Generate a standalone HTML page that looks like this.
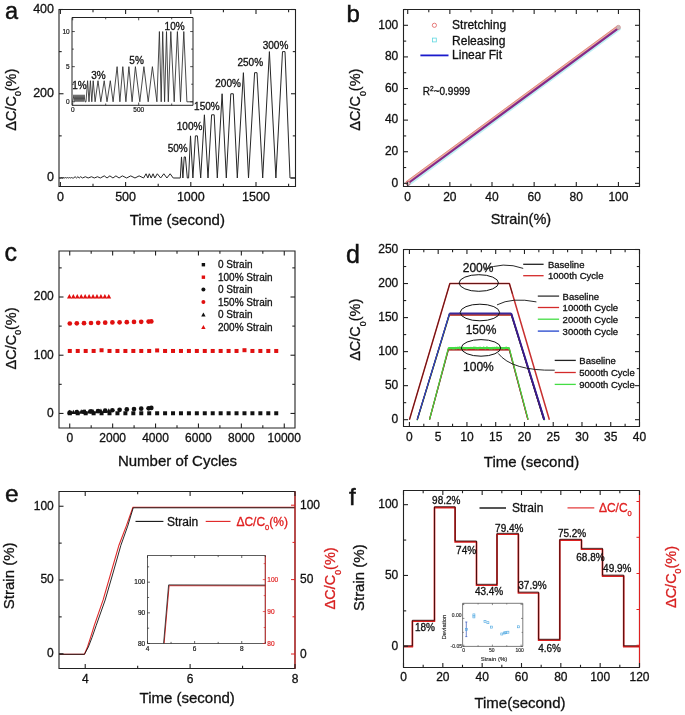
<!DOCTYPE html>
<html><head><meta charset="utf-8"><style>
html,body{margin:0;padding:0;background:#fff;}
svg{display:block;}
#w{will-change:transform;width:685px;height:715px;}
text{font-family:"Liberation Sans", sans-serif;}
</style></head><body>
<div id="w"><svg width="685" height="715" viewBox="0 0 685 715">
<rect width="685" height="715" fill="#fff"/>
<path d="M59.6 177.99 L60.4 177.99 L60.4 177.99 L61.68 177.57 L62.67 177.99 L63.66 177.57 L64.64 177.99 L65.63 177.57 L66.62 177.99 L67.61 177.57 L68.59 177.99 L69.58 177.57 L70.57 177.99 L71.56 177.57 L72.55 177.99 L73.53 177.99 L75.12 176.73 L76.5 177.99 L77.88 176.73 L79.26 177.99 L80.65 176.73 L82.52 177.99 L85.39 176.73 L88.16 177.99 L91.51 176.73 L94.28 177.99 L97.54 176.73 L100.31 177.99 L104.26 175.89 L107.02 177.99 L109.89 175.89 L112.95 177.99 L115.92 175.89 L119.08 177.99 L122.34 175.89 L126.68 177.99 L130.73 175.89 L134.98 177.99 L139.13 175.89 L143.58 177.99 L146.05 173.78 L147.83 177.99 L149.31 173.78 L151.18 177.99 L153.06 173.78 L154.84 177.99 L157.31 173.78 L160.67 177.99 L163.83 173.78 L166.89 177.99 L170.15 173.78 L173.21 177.99 L180.3 177.99 L181.5 156.93 L182.9 177.99 L184.2 156.93 L185.4 156.93 L187.3 177.99 L188.6 177.99 L190.5 135.87 L192.9 177.99 L195.4 135.87 L197.4 135.87 L200.7 177.99 L204.4 114.81 L208 177.99 L211.6 114.81 L214.2 114.81 L217.3 177.99 L222.1 93.75 L226.3 177.99 L230.8 93.75 L233.3 93.75 L237.3 177.99 L243.4 72.68 L248.5 177.99 L254.6 72.68 L257 72.68 L262.7 177.99 L269.4 51.62 L275.9 177.99 L282.5 51.62 L285 51.62 L290 177.99 L295.5 177.99" fill="none" stroke="#262626" stroke-width="1.0" stroke-linejoin="round" />
<path d="M59 9.5 H295.5 V186.5 H59 Z" fill="none" stroke="#222" stroke-width="1.1"/>
<line x1="60.4" y1="186.5" x2="60.4" y2="182" stroke="#222" stroke-width="1.1"/>
<line x1="60.4" y1="9.5" x2="60.4" y2="14" stroke="#222" stroke-width="1.1"/>
<line x1="93" y1="186.5" x2="93" y2="183.8" stroke="#222" stroke-width="1.1"/>
<line x1="93" y1="9.5" x2="93" y2="12.2" stroke="#222" stroke-width="1.1"/>
<line x1="125.6" y1="186.5" x2="125.6" y2="182" stroke="#222" stroke-width="1.1"/>
<line x1="125.6" y1="9.5" x2="125.6" y2="14" stroke="#222" stroke-width="1.1"/>
<line x1="158.2" y1="186.5" x2="158.2" y2="183.8" stroke="#222" stroke-width="1.1"/>
<line x1="158.2" y1="9.5" x2="158.2" y2="12.2" stroke="#222" stroke-width="1.1"/>
<line x1="190.8" y1="186.5" x2="190.8" y2="182" stroke="#222" stroke-width="1.1"/>
<line x1="190.8" y1="9.5" x2="190.8" y2="14" stroke="#222" stroke-width="1.1"/>
<line x1="223.4" y1="186.5" x2="223.4" y2="183.8" stroke="#222" stroke-width="1.1"/>
<line x1="223.4" y1="9.5" x2="223.4" y2="12.2" stroke="#222" stroke-width="1.1"/>
<line x1="256" y1="186.5" x2="256" y2="182" stroke="#222" stroke-width="1.1"/>
<line x1="256" y1="9.5" x2="256" y2="14" stroke="#222" stroke-width="1.1"/>
<line x1="288.6" y1="186.5" x2="288.6" y2="183.8" stroke="#222" stroke-width="1.1"/>
<line x1="288.6" y1="9.5" x2="288.6" y2="12.2" stroke="#222" stroke-width="1.1"/>
<line x1="59" y1="177.99" x2="63.5" y2="177.99" stroke="#222" stroke-width="1.1"/>
<line x1="295.5" y1="177.99" x2="291" y2="177.99" stroke="#222" stroke-width="1.1"/>
<line x1="59" y1="135.87" x2="61.7" y2="135.87" stroke="#222" stroke-width="1.1"/>
<line x1="295.5" y1="135.87" x2="292.8" y2="135.87" stroke="#222" stroke-width="1.1"/>
<line x1="59" y1="93.75" x2="63.5" y2="93.75" stroke="#222" stroke-width="1.1"/>
<line x1="295.5" y1="93.75" x2="291" y2="93.75" stroke="#222" stroke-width="1.1"/>
<line x1="59" y1="51.62" x2="61.7" y2="51.62" stroke="#222" stroke-width="1.1"/>
<line x1="295.5" y1="51.62" x2="292.8" y2="51.62" stroke="#222" stroke-width="1.1"/>
<line x1="59" y1="9.5" x2="63.5" y2="9.5" stroke="#222" stroke-width="1.1"/>
<line x1="295.5" y1="9.5" x2="291" y2="9.5" stroke="#222" stroke-width="1.1"/>
<text x="60.4" y="200.9" font-size="12.5" text-anchor="middle" fill="#111" stroke="#111" stroke-width="0.3" >0</text>
<text x="125.6" y="200.9" font-size="12.5" text-anchor="middle" fill="#111" stroke="#111" stroke-width="0.3" >500</text>
<text x="190.8" y="200.9" font-size="12.5" text-anchor="middle" fill="#111" stroke="#111" stroke-width="0.3" >1000</text>
<text x="256" y="200.9" font-size="12.5" text-anchor="middle" fill="#111" stroke="#111" stroke-width="0.3" >1500</text>
<text x="54" y="181.09" font-size="12.5" text-anchor="end" fill="#111" stroke="#111" stroke-width="0.3" >0</text>
<text x="54" y="96.85" font-size="12.5" text-anchor="end" fill="#111" stroke="#111" stroke-width="0.3" >200</text>
<text x="54" y="12.6" font-size="12.5" text-anchor="end" fill="#111" stroke="#111" stroke-width="0.3" >400</text>
<text x="177.3" y="225.2" font-size="15" text-anchor="middle" fill="#111" stroke="#111" stroke-width="0.3" >Time (second)</text>
<text x="15.9" y="99.7" font-size="14.5" text-anchor="middle" fill="#111" stroke="#111" stroke-width="0.3" transform="rotate(-90 15.9 99.7)">ΔC/C<tspan font-size="8.7" dy="5.51">0</tspan><tspan dy="-5.51">(%)</tspan></text>
<text x="5" y="18.6" font-size="23.5" text-anchor="start" fill="#111" stroke="#111" stroke-width="0.45" >a</text>
<text x="177.7" y="151.6" font-size="10" text-anchor="middle" fill="#111" stroke="#111" stroke-width="0.3" >50%</text>
<text x="189.6" y="130.3" font-size="10" text-anchor="middle" fill="#111" stroke="#111" stroke-width="0.3" >100%</text>
<text x="206.9" y="110.4" font-size="10" text-anchor="middle" fill="#111" stroke="#111" stroke-width="0.3" >150%</text>
<text x="228.1" y="86.6" font-size="10" text-anchor="middle" fill="#111" stroke="#111" stroke-width="0.3" >200%</text>
<text x="250.3" y="65.6" font-size="10" text-anchor="middle" fill="#111" stroke="#111" stroke-width="0.3" >250%</text>
<text x="275.5" y="49.3" font-size="10" text-anchor="middle" fill="#111" stroke="#111" stroke-width="0.3" >300%</text>
<rect x="72" y="17.5" width="121" height="87.8" fill="#fff"/>
<path d="M72.7 101.79 L72.7 101.79 L74 94.76 L75 101.79 L76 94.76 L77 101.79 L78 94.76 L79 101.79 L80 94.76 L81 101.79 L82 94.76 L83 101.79 L84 94.76 L85 101.79 L86 101.79 L87.6 80.72 L89 101.79 L90.4 80.72 L91.8 101.79 L93.2 80.72 L95.1 101.79 L98 80.72 L100.8 101.79 L104.2 80.72 L107 101.79 L110.3 80.72 L113.1 101.79 L117.1 66.67 L119.9 101.79 L122.8 66.67 L125.9 101.79 L128.9 66.67 L132.1 101.79 L135.4 66.67 L139.8 101.79 L143.9 66.67 L148.2 101.79 L152.4 66.67 L156.9 101.79 L159.4 31.55 L161.2 101.79 L162.7 31.55 L164.6 101.79 L166.5 31.55 L168.3 101.79 L170.8 31.55 L174.2 101.79 L177.4 31.55 L180.5 101.79 L183.8 31.55 L186.9 101.79 L193 101.79" fill="none" stroke="#2a2a2a" stroke-width="0.85" stroke-linejoin="round" />
<path d="M72 17.5 H193 V105.3 H72 Z" fill="none" stroke="#222" stroke-width="1"/>
<line x1="72.7" y1="105.3" x2="72.7" y2="102.5" stroke="#222" stroke-width="0.8"/>
<line x1="72.7" y1="17.5" x2="72.7" y2="20.3" stroke="#222" stroke-width="0.8"/>
<line x1="105.7" y1="105.3" x2="105.7" y2="103.5" stroke="#222" stroke-width="0.8"/>
<line x1="105.7" y1="17.5" x2="105.7" y2="19.3" stroke="#222" stroke-width="0.8"/>
<line x1="138.7" y1="105.3" x2="138.7" y2="102.5" stroke="#222" stroke-width="0.8"/>
<line x1="138.7" y1="17.5" x2="138.7" y2="20.3" stroke="#222" stroke-width="0.8"/>
<line x1="171.7" y1="105.3" x2="171.7" y2="103.5" stroke="#222" stroke-width="0.8"/>
<line x1="171.7" y1="17.5" x2="171.7" y2="19.3" stroke="#222" stroke-width="0.8"/>
<line x1="72" y1="101.79" x2="74.8" y2="101.79" stroke="#222" stroke-width="0.8"/>
<line x1="193" y1="101.79" x2="190.2" y2="101.79" stroke="#222" stroke-width="0.8"/>
<line x1="72" y1="84.23" x2="73.8" y2="84.23" stroke="#222" stroke-width="0.8"/>
<line x1="193" y1="84.23" x2="191.2" y2="84.23" stroke="#222" stroke-width="0.8"/>
<line x1="72" y1="66.67" x2="74.8" y2="66.67" stroke="#222" stroke-width="0.8"/>
<line x1="193" y1="66.67" x2="190.2" y2="66.67" stroke="#222" stroke-width="0.8"/>
<line x1="72" y1="49.11" x2="73.8" y2="49.11" stroke="#222" stroke-width="0.8"/>
<line x1="193" y1="49.11" x2="191.2" y2="49.11" stroke="#222" stroke-width="0.8"/>
<line x1="72" y1="31.55" x2="74.8" y2="31.55" stroke="#222" stroke-width="0.8"/>
<line x1="193" y1="31.55" x2="190.2" y2="31.55" stroke="#222" stroke-width="0.8"/>
<text x="72.7" y="111.8" font-size="6.5" text-anchor="middle" fill="#111" stroke="#111" stroke-width="0.18" >0</text>
<text x="138.7" y="111.8" font-size="6.5" text-anchor="middle" fill="#111" stroke="#111" stroke-width="0.18" >500</text>
<text x="69.7" y="104.09" font-size="6.5" text-anchor="end" fill="#111" stroke="#111" stroke-width="0.18" >0</text>
<text x="69.7" y="68.97" font-size="6.5" text-anchor="end" fill="#111" stroke="#111" stroke-width="0.18" >5</text>
<text x="69.7" y="33.85" font-size="6.5" text-anchor="end" fill="#111" stroke="#111" stroke-width="0.18" >10</text>
<text x="79.4" y="89.2" font-size="10" text-anchor="middle" fill="#111" stroke="#111" stroke-width="0.3" >1%</text>
<text x="98.5" y="79" font-size="10" text-anchor="middle" fill="#111" stroke="#111" stroke-width="0.3" >3%</text>
<text x="136.6" y="63.6" font-size="10" text-anchor="middle" fill="#111" stroke="#111" stroke-width="0.3" >5%</text>
<text x="174.6" y="29.9" font-size="10" text-anchor="middle" fill="#111" stroke="#111" stroke-width="0.3" >10%</text>
<line x1="408.49" y1="184.39" x2="619.2" y2="29.04" stroke="#bff0f4" stroke-width="3.2" stroke-opacity="1" stroke-linecap="round"/>
<line x1="407.12" y1="182.53" x2="617.84" y2="27.19" stroke="#eeb0a6" stroke-width="3.4" stroke-opacity="1" stroke-linecap="round"/>
<line x1="407.83" y1="183.5" x2="618.55" y2="28.15" stroke="#842a88" stroke-width="2.1" stroke-opacity="1" stroke-linecap="round"/>
<line x1="406.35" y1="181.49" x2="617.06" y2="26.14" stroke="#d87060" stroke-width="0.8" stroke-opacity="0.7" stroke-linecap="round"/>
<circle cx="618.43" cy="27.39" r="2.1" fill="#c8b8b8" stroke="#d09090" stroke-width="0.6"/>
<circle cx="408.01" cy="183.34" r="2" fill="#fff" stroke="#c05060" stroke-width="0.8"/>
<path d="M403.5 9.5 H639.5 V186.5 H403.5 Z" fill="none" stroke="#222" stroke-width="1.1"/>
<line x1="407.71" y1="186.5" x2="407.71" y2="182" stroke="#222" stroke-width="1.1"/>
<line x1="407.71" y1="9.5" x2="407.71" y2="14" stroke="#222" stroke-width="1.1"/>
<line x1="428.79" y1="186.5" x2="428.79" y2="183.8" stroke="#222" stroke-width="1.1"/>
<line x1="428.79" y1="9.5" x2="428.79" y2="12.2" stroke="#222" stroke-width="1.1"/>
<line x1="449.86" y1="186.5" x2="449.86" y2="182" stroke="#222" stroke-width="1.1"/>
<line x1="449.86" y1="9.5" x2="449.86" y2="14" stroke="#222" stroke-width="1.1"/>
<line x1="470.93" y1="186.5" x2="470.93" y2="183.8" stroke="#222" stroke-width="1.1"/>
<line x1="470.93" y1="9.5" x2="470.93" y2="12.2" stroke="#222" stroke-width="1.1"/>
<line x1="492" y1="186.5" x2="492" y2="182" stroke="#222" stroke-width="1.1"/>
<line x1="492" y1="9.5" x2="492" y2="14" stroke="#222" stroke-width="1.1"/>
<line x1="513.07" y1="186.5" x2="513.07" y2="183.8" stroke="#222" stroke-width="1.1"/>
<line x1="513.07" y1="9.5" x2="513.07" y2="12.2" stroke="#222" stroke-width="1.1"/>
<line x1="534.14" y1="186.5" x2="534.14" y2="182" stroke="#222" stroke-width="1.1"/>
<line x1="534.14" y1="9.5" x2="534.14" y2="14" stroke="#222" stroke-width="1.1"/>
<line x1="555.21" y1="186.5" x2="555.21" y2="183.8" stroke="#222" stroke-width="1.1"/>
<line x1="555.21" y1="9.5" x2="555.21" y2="12.2" stroke="#222" stroke-width="1.1"/>
<line x1="576.29" y1="186.5" x2="576.29" y2="182" stroke="#222" stroke-width="1.1"/>
<line x1="576.29" y1="9.5" x2="576.29" y2="14" stroke="#222" stroke-width="1.1"/>
<line x1="597.36" y1="186.5" x2="597.36" y2="183.8" stroke="#222" stroke-width="1.1"/>
<line x1="597.36" y1="9.5" x2="597.36" y2="12.2" stroke="#222" stroke-width="1.1"/>
<line x1="618.43" y1="186.5" x2="618.43" y2="182" stroke="#222" stroke-width="1.1"/>
<line x1="618.43" y1="9.5" x2="618.43" y2="14" stroke="#222" stroke-width="1.1"/>
<line x1="639.5" y1="186.5" x2="639.5" y2="183.8" stroke="#222" stroke-width="1.1"/>
<line x1="639.5" y1="9.5" x2="639.5" y2="12.2" stroke="#222" stroke-width="1.1"/>
<line x1="403.5" y1="183.34" x2="408" y2="183.34" stroke="#222" stroke-width="1.1"/>
<line x1="639.5" y1="183.34" x2="635" y2="183.34" stroke="#222" stroke-width="1.1"/>
<line x1="403.5" y1="167.54" x2="406.2" y2="167.54" stroke="#222" stroke-width="1.1"/>
<line x1="639.5" y1="167.54" x2="636.8" y2="167.54" stroke="#222" stroke-width="1.1"/>
<line x1="403.5" y1="151.73" x2="408" y2="151.73" stroke="#222" stroke-width="1.1"/>
<line x1="639.5" y1="151.73" x2="635" y2="151.73" stroke="#222" stroke-width="1.1"/>
<line x1="403.5" y1="135.93" x2="406.2" y2="135.93" stroke="#222" stroke-width="1.1"/>
<line x1="639.5" y1="135.93" x2="636.8" y2="135.93" stroke="#222" stroke-width="1.1"/>
<line x1="403.5" y1="120.12" x2="408" y2="120.12" stroke="#222" stroke-width="1.1"/>
<line x1="639.5" y1="120.12" x2="635" y2="120.12" stroke="#222" stroke-width="1.1"/>
<line x1="403.5" y1="104.32" x2="406.2" y2="104.32" stroke="#222" stroke-width="1.1"/>
<line x1="639.5" y1="104.32" x2="636.8" y2="104.32" stroke="#222" stroke-width="1.1"/>
<line x1="403.5" y1="88.52" x2="408" y2="88.52" stroke="#222" stroke-width="1.1"/>
<line x1="639.5" y1="88.52" x2="635" y2="88.52" stroke="#222" stroke-width="1.1"/>
<line x1="403.5" y1="72.71" x2="406.2" y2="72.71" stroke="#222" stroke-width="1.1"/>
<line x1="639.5" y1="72.71" x2="636.8" y2="72.71" stroke="#222" stroke-width="1.1"/>
<line x1="403.5" y1="56.91" x2="408" y2="56.91" stroke="#222" stroke-width="1.1"/>
<line x1="639.5" y1="56.91" x2="635" y2="56.91" stroke="#222" stroke-width="1.1"/>
<line x1="403.5" y1="41.11" x2="406.2" y2="41.11" stroke="#222" stroke-width="1.1"/>
<line x1="639.5" y1="41.11" x2="636.8" y2="41.11" stroke="#222" stroke-width="1.1"/>
<line x1="403.5" y1="25.3" x2="408" y2="25.3" stroke="#222" stroke-width="1.1"/>
<line x1="639.5" y1="25.3" x2="635" y2="25.3" stroke="#222" stroke-width="1.1"/>
<line x1="403.5" y1="9.5" x2="406.2" y2="9.5" stroke="#222" stroke-width="1.1"/>
<line x1="639.5" y1="9.5" x2="636.8" y2="9.5" stroke="#222" stroke-width="1.1"/>
<text x="407.71" y="200.8" font-size="12" text-anchor="middle" fill="#111" stroke="#111" stroke-width="0.3" >0</text>
<text x="449.86" y="200.8" font-size="12" text-anchor="middle" fill="#111" stroke="#111" stroke-width="0.3" >20</text>
<text x="492" y="200.8" font-size="12" text-anchor="middle" fill="#111" stroke="#111" stroke-width="0.3" >40</text>
<text x="534.14" y="200.8" font-size="12" text-anchor="middle" fill="#111" stroke="#111" stroke-width="0.3" >60</text>
<text x="576.29" y="200.8" font-size="12" text-anchor="middle" fill="#111" stroke="#111" stroke-width="0.3" >80</text>
<text x="618.43" y="200.8" font-size="12" text-anchor="middle" fill="#111" stroke="#111" stroke-width="0.3" >100</text>
<text x="398.3" y="186.64" font-size="12" text-anchor="end" fill="#111" stroke="#111" stroke-width="0.3" >0</text>
<text x="398.3" y="155.03" font-size="12" text-anchor="end" fill="#111" stroke="#111" stroke-width="0.3" >20</text>
<text x="398.3" y="123.42" font-size="12" text-anchor="end" fill="#111" stroke="#111" stroke-width="0.3" >40</text>
<text x="398.3" y="91.82" font-size="12" text-anchor="end" fill="#111" stroke="#111" stroke-width="0.3" >60</text>
<text x="398.3" y="60.21" font-size="12" text-anchor="end" fill="#111" stroke="#111" stroke-width="0.3" >80</text>
<text x="398.3" y="28.6" font-size="12" text-anchor="end" fill="#111" stroke="#111" stroke-width="0.3" >100</text>
<text x="490.7" y="224.3" font-size="14.5" text-anchor="start" fill="#111" stroke="#111" stroke-width="0.3" >Strain(%)</text>
<text x="360.1" y="99.6" font-size="14.5" text-anchor="middle" fill="#111" stroke="#111" stroke-width="0.3" transform="rotate(-90 360.1 99.6)">ΔC/C<tspan font-size="8.7" dy="5.51">0</tspan><tspan dy="-5.51">(%)</tspan></text>
<text x="346.6" y="22" font-size="24" text-anchor="start" fill="#111" stroke="#111" stroke-width="0.45" >b</text>
<circle cx="434.4" cy="25.3" r="2.1" fill="none" stroke="#e05a5a" stroke-width="0.8"/>
<rect x="432.5" y="38.1" width="3.8" height="3.8" fill="none" stroke="#5fd8e0" stroke-width="0.8"/>
<line x1="420.4" y1="55.4" x2="448.5" y2="55.4" stroke="#1a1acc" stroke-width="1.8"/>
<text x="452.1" y="29.3" font-size="12" text-anchor="start" fill="#111" stroke="#111" stroke-width="0.3" >Stretching</text>
<text x="452.1" y="44.5" font-size="12" text-anchor="start" fill="#111" stroke="#111" stroke-width="0.3" >Releasing</text>
<text x="452.1" y="59.2" font-size="12" text-anchor="start" fill="#111" stroke="#111" stroke-width="0.3" >Linear Fit</text>
<text x="422.8" y="95.1" font-size="10" text-anchor="start" fill="#111" stroke="#111" stroke-width="0.3" >R<tspan font-size="6.5" dy="-4">2</tspan><tspan dy="4">~0.9999</tspan></text>
<rect x="67.8" y="348.97" width="4" height="4" fill="#e01010"/>
<rect x="75.74" y="348.97" width="4" height="4" fill="#e01010"/>
<rect x="83.68" y="348.97" width="4" height="4" fill="#e01010"/>
<rect x="91.62" y="348.97" width="4" height="4" fill="#e01010"/>
<rect x="99.56" y="348.27" width="4" height="4" fill="#e01010"/>
<rect x="107.5" y="348.97" width="4" height="4" fill="#e01010"/>
<rect x="115.44" y="348.97" width="4" height="4" fill="#e01010"/>
<rect x="123.38" y="348.97" width="4" height="4" fill="#e01010"/>
<rect x="131.32" y="348.97" width="4" height="4" fill="#e01010"/>
<rect x="139.26" y="348.97" width="4" height="4" fill="#e01010"/>
<rect x="147.2" y="348.97" width="4" height="4" fill="#e01010"/>
<rect x="155.14" y="348.45" width="4" height="4" fill="#e01010"/>
<rect x="163.08" y="348.97" width="4" height="4" fill="#e01010"/>
<rect x="171.02" y="348.97" width="4" height="4" fill="#e01010"/>
<rect x="178.96" y="348.97" width="4" height="4" fill="#e01010"/>
<rect x="186.9" y="348.97" width="4" height="4" fill="#e01010"/>
<rect x="194.84" y="348.97" width="4" height="4" fill="#e01010"/>
<rect x="202.78" y="348.97" width="4" height="4" fill="#e01010"/>
<rect x="210.72" y="348.97" width="4" height="4" fill="#e01010"/>
<rect x="218.66" y="348.97" width="4" height="4" fill="#e01010"/>
<rect x="226.6" y="348.97" width="4" height="4" fill="#e01010"/>
<rect x="234.54" y="348.97" width="4" height="4" fill="#e01010"/>
<rect x="242.48" y="348.21" width="4" height="4" fill="#e01010"/>
<rect x="250.42" y="348.97" width="4" height="4" fill="#e01010"/>
<rect x="258.36" y="348.97" width="4" height="4" fill="#e01010"/>
<rect x="266.3" y="348.97" width="4" height="4" fill="#e01010"/>
<rect x="274.24" y="348.97" width="4" height="4" fill="#e01010"/>
<circle cx="69.8" cy="323.49" r="2.35" fill="#e01010"/>
<circle cx="76.8" cy="323.32" r="2.35" fill="#e01010"/>
<circle cx="84" cy="323.15" r="2.35" fill="#e01010"/>
<circle cx="91" cy="322.98" r="2.35" fill="#e01010"/>
<circle cx="98.2" cy="322.81" r="2.35" fill="#e01010"/>
<circle cx="105.2" cy="322.64" r="2.35" fill="#e01010"/>
<circle cx="112.4" cy="322.47" r="2.35" fill="#e01010"/>
<circle cx="119.6" cy="322.3" r="2.35" fill="#e01010"/>
<circle cx="126.8" cy="322.13" r="2.35" fill="#e01010"/>
<circle cx="134" cy="321.96" r="2.35" fill="#e01010"/>
<circle cx="141.2" cy="321.79" r="2.35" fill="#e01010"/>
<circle cx="148.6" cy="321.62" r="2.35" fill="#e01010"/>
<circle cx="151.3" cy="321.45" r="2.35" fill="#e01010"/>
<path d="M67 298.45 L69.4 294.03 L71.8 298.45 Z" fill="#e01010"/>
<path d="M70.94 298.45 L73.34 294.03 L75.74 298.45 Z" fill="#e01010"/>
<path d="M74.88 298.45 L77.28 294.03 L79.68 298.45 Z" fill="#e01010"/>
<path d="M78.82 298.45 L81.22 294.03 L83.62 298.45 Z" fill="#e01010"/>
<path d="M82.76 298.45 L85.16 294.03 L87.56 298.45 Z" fill="#e01010"/>
<path d="M86.7 298.45 L89.1 294.03 L91.5 298.45 Z" fill="#e01010"/>
<path d="M90.64 298.45 L93.04 294.03 L95.44 298.45 Z" fill="#e01010"/>
<path d="M94.58 298.45 L96.98 294.03 L99.38 298.45 Z" fill="#e01010"/>
<path d="M98.52 298.45 L100.92 294.03 L103.32 298.45 Z" fill="#e01010"/>
<path d="M102.46 298.45 L104.86 294.03 L107.26 298.45 Z" fill="#e01010"/>
<path d="M106.4 298.45 L108.8 294.03 L111.2 298.45 Z" fill="#e01010"/>
<rect x="67.8" y="411.27" width="4" height="4" fill="#111"/>
<rect x="75.74" y="411.27" width="4" height="4" fill="#111"/>
<rect x="83.68" y="411.27" width="4" height="4" fill="#111"/>
<rect x="91.62" y="411.27" width="4" height="4" fill="#111"/>
<rect x="99.56" y="411.27" width="4" height="4" fill="#111"/>
<rect x="107.5" y="411.27" width="4" height="4" fill="#111"/>
<rect x="115.44" y="411.27" width="4" height="4" fill="#111"/>
<rect x="123.38" y="411.27" width="4" height="4" fill="#111"/>
<rect x="131.32" y="411.27" width="4" height="4" fill="#111"/>
<rect x="139.26" y="411.27" width="4" height="4" fill="#111"/>
<rect x="147.2" y="411.27" width="4" height="4" fill="#111"/>
<rect x="155.14" y="411.27" width="4" height="4" fill="#111"/>
<rect x="163.08" y="411.27" width="4" height="4" fill="#111"/>
<rect x="171.02" y="411.27" width="4" height="4" fill="#111"/>
<rect x="178.96" y="411.27" width="4" height="4" fill="#111"/>
<rect x="186.9" y="411.27" width="4" height="4" fill="#111"/>
<rect x="194.84" y="411.27" width="4" height="4" fill="#111"/>
<rect x="202.78" y="411.27" width="4" height="4" fill="#111"/>
<rect x="210.72" y="411.27" width="4" height="4" fill="#111"/>
<rect x="218.66" y="411.27" width="4" height="4" fill="#111"/>
<rect x="226.6" y="411.27" width="4" height="4" fill="#111"/>
<rect x="234.54" y="411.27" width="4" height="4" fill="#111"/>
<rect x="242.48" y="411.27" width="4" height="4" fill="#111"/>
<rect x="250.42" y="411.27" width="4" height="4" fill="#111"/>
<rect x="258.36" y="411.27" width="4" height="4" fill="#111"/>
<rect x="266.3" y="411.27" width="4" height="4" fill="#111"/>
<rect x="274.24" y="411.27" width="4" height="4" fill="#111"/>
<path d="M67 414.2 L69.4 409.78 L71.8 414.2 Z" fill="#111"/>
<path d="M70.94 414.05 L73.34 409.63 L75.74 414.05 Z" fill="#111"/>
<path d="M74.88 413.91 L77.28 409.49 L79.68 413.91 Z" fill="#111"/>
<path d="M78.82 413.76 L81.22 409.34 L83.62 413.76 Z" fill="#111"/>
<path d="M82.76 413.61 L85.16 409.2 L87.56 413.61 Z" fill="#111"/>
<path d="M86.7 413.47 L89.1 409.05 L91.5 413.47 Z" fill="#111"/>
<path d="M90.64 413.32 L93.04 408.91 L95.44 413.32 Z" fill="#111"/>
<path d="M94.58 413.18 L96.98 408.76 L99.38 413.18 Z" fill="#111"/>
<path d="M98.52 413.03 L100.92 408.62 L103.32 413.03 Z" fill="#111"/>
<path d="M102.46 412.89 L104.86 408.47 L107.26 412.89 Z" fill="#111"/>
<path d="M106.4 412.74 L108.8 408.32 L111.2 412.74 Z" fill="#111"/>
<circle cx="69.8" cy="412.57" r="2.35" fill="#111"/>
<circle cx="76.8" cy="412.18" r="2.35" fill="#111"/>
<circle cx="84" cy="411.79" r="2.35" fill="#111"/>
<circle cx="91" cy="411.41" r="2.35" fill="#111"/>
<circle cx="98.2" cy="411.02" r="2.35" fill="#111"/>
<circle cx="105.2" cy="410.63" r="2.35" fill="#111"/>
<circle cx="112.4" cy="410.24" r="2.35" fill="#111"/>
<circle cx="119.6" cy="409.85" r="2.35" fill="#111"/>
<circle cx="126.8" cy="409.47" r="2.35" fill="#111"/>
<circle cx="134" cy="409.08" r="2.35" fill="#111"/>
<circle cx="141.2" cy="408.69" r="2.35" fill="#111"/>
<circle cx="148.6" cy="408.3" r="2.35" fill="#111"/>
<circle cx="151.3" cy="407.91" r="2.35" fill="#111"/>
<path d="M59 251 H295 V428 H59 Z" fill="none" stroke="#222" stroke-width="1.1"/>
<line x1="69.73" y1="428" x2="69.73" y2="423.5" stroke="#222" stroke-width="1.1"/>
<line x1="69.73" y1="251" x2="69.73" y2="255.5" stroke="#222" stroke-width="1.1"/>
<line x1="91.18" y1="428" x2="91.18" y2="425.3" stroke="#222" stroke-width="1.1"/>
<line x1="91.18" y1="251" x2="91.18" y2="253.7" stroke="#222" stroke-width="1.1"/>
<line x1="112.64" y1="428" x2="112.64" y2="423.5" stroke="#222" stroke-width="1.1"/>
<line x1="112.64" y1="251" x2="112.64" y2="255.5" stroke="#222" stroke-width="1.1"/>
<line x1="134.09" y1="428" x2="134.09" y2="425.3" stroke="#222" stroke-width="1.1"/>
<line x1="134.09" y1="251" x2="134.09" y2="253.7" stroke="#222" stroke-width="1.1"/>
<line x1="155.55" y1="428" x2="155.55" y2="423.5" stroke="#222" stroke-width="1.1"/>
<line x1="155.55" y1="251" x2="155.55" y2="255.5" stroke="#222" stroke-width="1.1"/>
<line x1="177" y1="428" x2="177" y2="425.3" stroke="#222" stroke-width="1.1"/>
<line x1="177" y1="251" x2="177" y2="253.7" stroke="#222" stroke-width="1.1"/>
<line x1="198.45" y1="428" x2="198.45" y2="423.5" stroke="#222" stroke-width="1.1"/>
<line x1="198.45" y1="251" x2="198.45" y2="255.5" stroke="#222" stroke-width="1.1"/>
<line x1="219.91" y1="428" x2="219.91" y2="425.3" stroke="#222" stroke-width="1.1"/>
<line x1="219.91" y1="251" x2="219.91" y2="253.7" stroke="#222" stroke-width="1.1"/>
<line x1="241.36" y1="428" x2="241.36" y2="423.5" stroke="#222" stroke-width="1.1"/>
<line x1="241.36" y1="251" x2="241.36" y2="255.5" stroke="#222" stroke-width="1.1"/>
<line x1="262.82" y1="428" x2="262.82" y2="425.3" stroke="#222" stroke-width="1.1"/>
<line x1="262.82" y1="251" x2="262.82" y2="253.7" stroke="#222" stroke-width="1.1"/>
<line x1="284.27" y1="428" x2="284.27" y2="423.5" stroke="#222" stroke-width="1.1"/>
<line x1="284.27" y1="251" x2="284.27" y2="255.5" stroke="#222" stroke-width="1.1"/>
<line x1="59" y1="413.44" x2="63.5" y2="413.44" stroke="#222" stroke-width="1.1"/>
<line x1="295" y1="413.44" x2="290.5" y2="413.44" stroke="#222" stroke-width="1.1"/>
<line x1="59" y1="384.33" x2="61.7" y2="384.33" stroke="#222" stroke-width="1.1"/>
<line x1="295" y1="384.33" x2="292.3" y2="384.33" stroke="#222" stroke-width="1.1"/>
<line x1="59" y1="355.22" x2="63.5" y2="355.22" stroke="#222" stroke-width="1.1"/>
<line x1="295" y1="355.22" x2="290.5" y2="355.22" stroke="#222" stroke-width="1.1"/>
<line x1="59" y1="326.11" x2="61.7" y2="326.11" stroke="#222" stroke-width="1.1"/>
<line x1="295" y1="326.11" x2="292.3" y2="326.11" stroke="#222" stroke-width="1.1"/>
<line x1="59" y1="297" x2="63.5" y2="297" stroke="#222" stroke-width="1.1"/>
<line x1="295" y1="297" x2="290.5" y2="297" stroke="#222" stroke-width="1.1"/>
<line x1="59" y1="267.88" x2="61.7" y2="267.88" stroke="#222" stroke-width="1.1"/>
<line x1="295" y1="267.88" x2="292.3" y2="267.88" stroke="#222" stroke-width="1.1"/>
<text x="69.73" y="442.2" font-size="12" text-anchor="middle" fill="#111" stroke="#111" stroke-width="0.3" >0</text>
<text x="112.64" y="442.2" font-size="12" text-anchor="middle" fill="#111" stroke="#111" stroke-width="0.3" >2000</text>
<text x="155.55" y="442.2" font-size="12" text-anchor="middle" fill="#111" stroke="#111" stroke-width="0.3" >4000</text>
<text x="198.45" y="442.2" font-size="12" text-anchor="middle" fill="#111" stroke="#111" stroke-width="0.3" >6000</text>
<text x="241.36" y="442.2" font-size="12" text-anchor="middle" fill="#111" stroke="#111" stroke-width="0.3" >8000</text>
<text x="284.27" y="442.2" font-size="12" text-anchor="middle" fill="#111" stroke="#111" stroke-width="0.3" >10000</text>
<text x="53.8" y="416.74" font-size="12" text-anchor="end" fill="#111" stroke="#111" stroke-width="0.3" >0</text>
<text x="53.8" y="358.52" font-size="12" text-anchor="end" fill="#111" stroke="#111" stroke-width="0.3" >100</text>
<text x="53.8" y="300.3" font-size="12" text-anchor="end" fill="#111" stroke="#111" stroke-width="0.3" >200</text>
<text x="177.5" y="465.5" font-size="15" text-anchor="middle" fill="#111" stroke="#111" stroke-width="0.3" >Number of Cycles</text>
<text x="15.9" y="338.5" font-size="14.5" text-anchor="middle" fill="#111" stroke="#111" stroke-width="0.3" transform="rotate(-90 15.9 338.5)">ΔC/C<tspan font-size="8.7" dy="5.51">0</tspan><tspan dy="-5.51">(%)</tspan></text>
<text x="4.4" y="260.6" font-size="25" text-anchor="start" fill="#111" stroke="#111" stroke-width="0.45" >c</text>
<rect x="201.7" y="263" width="3.4" height="3.4" fill="#111"/>
<text x="218" y="268.3" font-size="10" text-anchor="start" fill="#111" stroke="#111" stroke-width="0.3" >0 Strain</text>
<rect x="201.7" y="275.5" width="3.4" height="3.4" fill="#e01010"/>
<text x="218" y="280.8" font-size="10" text-anchor="start" fill="#111" stroke="#111" stroke-width="0.3" >100% Strain</text>
<circle cx="203.4" cy="289.6" r="2" fill="#111"/>
<text x="218" y="293.2" font-size="10" text-anchor="start" fill="#111" stroke="#111" stroke-width="0.3" >0 Strain</text>
<circle cx="203.4" cy="302.1" r="2" fill="#e01010"/>
<text x="218" y="305.7" font-size="10" text-anchor="start" fill="#111" stroke="#111" stroke-width="0.3" >150% Strain</text>
<path d="M201.2 316.62 L203.4 312.58 L205.6 316.62 Z" fill="#111"/>
<text x="218" y="318.2" font-size="10" text-anchor="start" fill="#111" stroke="#111" stroke-width="0.3" >0 Strain</text>
<path d="M201.2 329.12 L203.4 325.08 L205.6 329.12 Z" fill="#e01010"/>
<text x="218" y="330.7" font-size="10" text-anchor="start" fill="#111" stroke="#111" stroke-width="0.3" >200% Strain</text>
<path d="M409.42 419.69 L449.86 283.54 L509.39 283.54 L549.37 419.69" fill="none" stroke="#c83030" stroke-width="1.5" stroke-linejoin="round" />
<path d="M409.42 419.69 L449.86 283.54 L509.39 283.54 L512.38 293.75" fill="none" stroke="#3a0a0a" stroke-width="0.7" stroke-linejoin="round" />
<path d="M417.19 420.37 L449.52 314.85 L511.23 314.85 L544.31 420.37" fill="none" stroke="#38c838" stroke-width="1.2" stroke-linejoin="round" />
<path d="M417.19 419.69 L449.52 314.17 L511.23 314.17 L544.02 419.69" fill="none" stroke="#d42a2a" stroke-width="1.3" stroke-linejoin="round" />
<path d="M449.52 315.13 L511.23 315.13" fill="none" stroke="#d42a2a" stroke-width="1.2" stroke-linejoin="round" />
<path d="M417.19 419.69 L449.52 313.49 L511.23 313.49 L543.73 419.69" fill="none" stroke="#222" stroke-width="1.2" stroke-linejoin="round" />
<path d="M417.19 419.69 L449.52 313.49 L511.23 313.49 L544.59 419.69" fill="none" stroke="#2a4ac8" stroke-width="1.2" stroke-linejoin="round" />
<path d="M449.52 313.49 L511.23 313.49" fill="none" stroke="#3a2a9a" stroke-width="1.8" stroke-linejoin="round" />
<path d="M511.23 313.49 L544.31 419.69" fill="none" stroke="#3a1a8a" stroke-width="1.9" stroke-linejoin="round" />
<path d="M429.5 419.69 L448.42 349.57 L509.22 349.57 L527.91 419.69" fill="none" stroke="#222" stroke-width="1.2" stroke-linejoin="round" />
<path d="M429.5 419.69 L448.42 348.55 L509.22 348.55 L527.91 419.69" fill="none" stroke="#d42a2a" stroke-width="1.3" stroke-linejoin="round" />
<path d="M448.42 349.85 L509.22 349.85" fill="none" stroke="#d42a2a" stroke-width="1.3" stroke-linejoin="round" />
<path d="M429.5 419.69 L448.42 347.87 L449.11 348.39 L449.63 348.77 L450.15 347.68 L450.67 348.94 L451.18 347.93 L451.7 348.3 L452.22 348.97 L452.74 347.99 L453.25 349.01 L453.77 348.15 L454.29 348.94 L454.81 348.9 L455.32 348.17 L455.84 347.3 L456.36 348.83 L456.88 348.61 L457.4 347.73 L457.91 347.03 L458.43 347.84 L458.95 348.23 L459.47 346.97 L459.98 349 L460.5 347.23 L461.02 348.47 L461.54 348.78 L462.05 348.84 L462.57 348.42 L463.09 347.32 L463.61 348.7 L464.12 347.83 L464.64 347.7 L465.16 348.29 L465.68 347.9 L466.2 348.96 L466.71 348.97 L467.23 348.65 L467.75 347.61 L468.27 348.17 L468.78 348.41 L469.3 347.82 L469.82 348.11 L470.34 348.44 L470.85 347.37 L471.37 347.57 L471.89 348.56 L472.41 347.85 L472.93 347.95 L473.44 347.19 L473.96 347.51 L474.48 348.47 L475 346.96 L475.51 348.84 L476.03 348.19 L476.55 347.45 L477.07 348.77 L477.58 348.03 L478.1 349.01 L478.62 347.64 L479.14 347.43 L479.66 347.85 L480.17 347.19 L480.69 348.41 L481.21 347.58 L481.73 347.8 L482.24 347.83 L482.76 348.1 L483.28 347.27 L483.8 347.04 L484.31 348.06 L484.83 347.65 L485.35 348.96 L485.87 347.57 L486.38 347.69 L486.9 346.93 L487.42 347.31 L487.94 348.48 L488.46 348.26 L488.97 347.64 L489.49 349.05 L490.01 348.09 L490.53 348.73 L491.04 348.84 L491.56 348.97 L492.08 347.42 L492.6 348.81 L493.11 348.56 L493.63 348.24 L494.15 347.2 L494.67 348.92 L495.19 348.12 L495.7 347.9 L496.22 347.17 L496.74 347.31 L497.26 347.21 L497.77 348.49 L498.29 348.19 L498.81 348.31 L499.33 347.17 L499.84 347.01 L500.36 348.77 L500.88 348.71 L501.4 348.59 L501.91 348.59 L502.43 348.04 L502.95 347.81 L503.47 348.52 L503.99 349.09 L504.5 348.18 L505.02 348.29 L505.54 347.86 L506.06 347.02 L506.57 347.59 L507.09 347.97 L507.61 347.75 L508.13 347.62 L508.64 348.98 L509.22 347.87 L528.2 419.69" fill="none" stroke="#3ed83e" stroke-width="1.2" stroke-linejoin="round" />
<path d="M448.42 348.01 L509.22 348.01" fill="none" stroke="#44dd44" stroke-width="1.8" stroke-linejoin="round" />
<path d="M403.5 249.5 H639.5 V426.5 H403.5 Z" fill="none" stroke="#222" stroke-width="1.1"/>
<line x1="409.42" y1="426.5" x2="409.42" y2="422" stroke="#222" stroke-width="1.1"/>
<line x1="409.42" y1="249.5" x2="409.42" y2="254" stroke="#222" stroke-width="1.1"/>
<line x1="423.8" y1="426.5" x2="423.8" y2="423.8" stroke="#222" stroke-width="1.1"/>
<line x1="423.8" y1="249.5" x2="423.8" y2="252.2" stroke="#222" stroke-width="1.1"/>
<line x1="438.18" y1="426.5" x2="438.18" y2="422" stroke="#222" stroke-width="1.1"/>
<line x1="438.18" y1="249.5" x2="438.18" y2="254" stroke="#222" stroke-width="1.1"/>
<line x1="452.56" y1="426.5" x2="452.56" y2="423.8" stroke="#222" stroke-width="1.1"/>
<line x1="452.56" y1="249.5" x2="452.56" y2="252.2" stroke="#222" stroke-width="1.1"/>
<line x1="466.94" y1="426.5" x2="466.94" y2="422" stroke="#222" stroke-width="1.1"/>
<line x1="466.94" y1="249.5" x2="466.94" y2="254" stroke="#222" stroke-width="1.1"/>
<line x1="481.32" y1="426.5" x2="481.32" y2="423.8" stroke="#222" stroke-width="1.1"/>
<line x1="481.32" y1="249.5" x2="481.32" y2="252.2" stroke="#222" stroke-width="1.1"/>
<line x1="495.7" y1="426.5" x2="495.7" y2="422" stroke="#222" stroke-width="1.1"/>
<line x1="495.7" y1="249.5" x2="495.7" y2="254" stroke="#222" stroke-width="1.1"/>
<line x1="510.08" y1="426.5" x2="510.08" y2="423.8" stroke="#222" stroke-width="1.1"/>
<line x1="510.08" y1="249.5" x2="510.08" y2="252.2" stroke="#222" stroke-width="1.1"/>
<line x1="524.46" y1="426.5" x2="524.46" y2="422" stroke="#222" stroke-width="1.1"/>
<line x1="524.46" y1="249.5" x2="524.46" y2="254" stroke="#222" stroke-width="1.1"/>
<line x1="538.84" y1="426.5" x2="538.84" y2="423.8" stroke="#222" stroke-width="1.1"/>
<line x1="538.84" y1="249.5" x2="538.84" y2="252.2" stroke="#222" stroke-width="1.1"/>
<line x1="553.22" y1="426.5" x2="553.22" y2="422" stroke="#222" stroke-width="1.1"/>
<line x1="553.22" y1="249.5" x2="553.22" y2="254" stroke="#222" stroke-width="1.1"/>
<line x1="567.6" y1="426.5" x2="567.6" y2="423.8" stroke="#222" stroke-width="1.1"/>
<line x1="567.6" y1="249.5" x2="567.6" y2="252.2" stroke="#222" stroke-width="1.1"/>
<line x1="581.98" y1="426.5" x2="581.98" y2="422" stroke="#222" stroke-width="1.1"/>
<line x1="581.98" y1="249.5" x2="581.98" y2="254" stroke="#222" stroke-width="1.1"/>
<line x1="596.36" y1="426.5" x2="596.36" y2="423.8" stroke="#222" stroke-width="1.1"/>
<line x1="596.36" y1="249.5" x2="596.36" y2="252.2" stroke="#222" stroke-width="1.1"/>
<line x1="610.74" y1="426.5" x2="610.74" y2="422" stroke="#222" stroke-width="1.1"/>
<line x1="610.74" y1="249.5" x2="610.74" y2="254" stroke="#222" stroke-width="1.1"/>
<line x1="625.12" y1="426.5" x2="625.12" y2="423.8" stroke="#222" stroke-width="1.1"/>
<line x1="625.12" y1="249.5" x2="625.12" y2="252.2" stroke="#222" stroke-width="1.1"/>
<line x1="639.5" y1="426.5" x2="639.5" y2="422" stroke="#222" stroke-width="1.1"/>
<line x1="639.5" y1="249.5" x2="639.5" y2="254" stroke="#222" stroke-width="1.1"/>
<line x1="403.5" y1="419.69" x2="408" y2="419.69" stroke="#222" stroke-width="1.1"/>
<line x1="639.5" y1="419.69" x2="635" y2="419.69" stroke="#222" stroke-width="1.1"/>
<line x1="403.5" y1="402.67" x2="406.2" y2="402.67" stroke="#222" stroke-width="1.1"/>
<line x1="639.5" y1="402.67" x2="636.8" y2="402.67" stroke="#222" stroke-width="1.1"/>
<line x1="403.5" y1="385.65" x2="408" y2="385.65" stroke="#222" stroke-width="1.1"/>
<line x1="639.5" y1="385.65" x2="635" y2="385.65" stroke="#222" stroke-width="1.1"/>
<line x1="403.5" y1="368.63" x2="406.2" y2="368.63" stroke="#222" stroke-width="1.1"/>
<line x1="639.5" y1="368.63" x2="636.8" y2="368.63" stroke="#222" stroke-width="1.1"/>
<line x1="403.5" y1="351.62" x2="408" y2="351.62" stroke="#222" stroke-width="1.1"/>
<line x1="639.5" y1="351.62" x2="635" y2="351.62" stroke="#222" stroke-width="1.1"/>
<line x1="403.5" y1="334.6" x2="406.2" y2="334.6" stroke="#222" stroke-width="1.1"/>
<line x1="639.5" y1="334.6" x2="636.8" y2="334.6" stroke="#222" stroke-width="1.1"/>
<line x1="403.5" y1="317.58" x2="408" y2="317.58" stroke="#222" stroke-width="1.1"/>
<line x1="639.5" y1="317.58" x2="635" y2="317.58" stroke="#222" stroke-width="1.1"/>
<line x1="403.5" y1="300.56" x2="406.2" y2="300.56" stroke="#222" stroke-width="1.1"/>
<line x1="639.5" y1="300.56" x2="636.8" y2="300.56" stroke="#222" stroke-width="1.1"/>
<line x1="403.5" y1="283.54" x2="408" y2="283.54" stroke="#222" stroke-width="1.1"/>
<line x1="639.5" y1="283.54" x2="635" y2="283.54" stroke="#222" stroke-width="1.1"/>
<line x1="403.5" y1="266.52" x2="406.2" y2="266.52" stroke="#222" stroke-width="1.1"/>
<line x1="639.5" y1="266.52" x2="636.8" y2="266.52" stroke="#222" stroke-width="1.1"/>
<line x1="403.5" y1="249.5" x2="408" y2="249.5" stroke="#222" stroke-width="1.1"/>
<line x1="639.5" y1="249.5" x2="635" y2="249.5" stroke="#222" stroke-width="1.1"/>
<text x="409.42" y="440.8" font-size="12" text-anchor="middle" fill="#111" stroke="#111" stroke-width="0.3" >0</text>
<text x="438.18" y="440.8" font-size="12" text-anchor="middle" fill="#111" stroke="#111" stroke-width="0.3" >5</text>
<text x="466.94" y="440.8" font-size="12" text-anchor="middle" fill="#111" stroke="#111" stroke-width="0.3" >10</text>
<text x="495.7" y="440.8" font-size="12" text-anchor="middle" fill="#111" stroke="#111" stroke-width="0.3" >15</text>
<text x="524.46" y="440.8" font-size="12" text-anchor="middle" fill="#111" stroke="#111" stroke-width="0.3" >20</text>
<text x="553.22" y="440.8" font-size="12" text-anchor="middle" fill="#111" stroke="#111" stroke-width="0.3" >25</text>
<text x="581.98" y="440.8" font-size="12" text-anchor="middle" fill="#111" stroke="#111" stroke-width="0.3" >30</text>
<text x="610.74" y="440.8" font-size="12" text-anchor="middle" fill="#111" stroke="#111" stroke-width="0.3" >35</text>
<text x="639.5" y="440.8" font-size="12" text-anchor="middle" fill="#111" stroke="#111" stroke-width="0.3" >40</text>
<text x="398.3" y="422.99" font-size="12" text-anchor="end" fill="#111" stroke="#111" stroke-width="0.3" >0</text>
<text x="398.3" y="388.95" font-size="12" text-anchor="end" fill="#111" stroke="#111" stroke-width="0.3" >50</text>
<text x="398.3" y="354.92" font-size="12" text-anchor="end" fill="#111" stroke="#111" stroke-width="0.3" >100</text>
<text x="398.3" y="320.88" font-size="12" text-anchor="end" fill="#111" stroke="#111" stroke-width="0.3" >150</text>
<text x="398.3" y="286.84" font-size="12" text-anchor="end" fill="#111" stroke="#111" stroke-width="0.3" >200</text>
<text x="398.3" y="252.8" font-size="12" text-anchor="end" fill="#111" stroke="#111" stroke-width="0.3" >250</text>
<text x="531.5" y="466.9" font-size="15" text-anchor="middle" fill="#111" stroke="#111" stroke-width="0.3" >Time (second)</text>
<text x="360.3" y="329.8" font-size="14.5" text-anchor="middle" fill="#111" stroke="#111" stroke-width="0.3" transform="rotate(-90 360.3 329.8)">ΔC/C<tspan font-size="8.7" dy="5.51">0</tspan><tspan dy="-5.51">(%)</tspan></text>
<text x="346.1" y="262.6" font-size="25" text-anchor="start" fill="#111" stroke="#111" stroke-width="0.45" >d</text>
<ellipse cx="478.8" cy="283" rx="19.7" ry="8.3" fill="none" stroke="#111" stroke-width="1"/>
<ellipse cx="479.9" cy="312.5" rx="19.7" ry="8.3" fill="none" stroke="#111" stroke-width="1"/>
<ellipse cx="481" cy="347.9" rx="19.7" ry="8.3" fill="none" stroke="#111" stroke-width="1"/>
<path d="M483.8 270 Q502.8 261 523.2 268.4" fill="none" stroke="#111" stroke-width="0.9"/>
<path d="M497 304.9 Q512 297 536.4 301.9" fill="none" stroke="#111" stroke-width="0.9"/>
<path d="M498.2 353.4 Q512 371 554.7 370.2" fill="none" stroke="#111" stroke-width="0.9"/>
<text x="478.1" y="272.2" font-size="12" text-anchor="middle" fill="#111" stroke="#111" stroke-width="0.3" >200%</text>
<text x="481" y="333.6" font-size="12" text-anchor="middle" fill="#111" stroke="#111" stroke-width="0.3" >150%</text>
<text x="478.4" y="371" font-size="12" text-anchor="middle" fill="#111" stroke="#111" stroke-width="0.3" >100%</text>
<line x1="523.2" y1="264.3" x2="543.6" y2="264.3" stroke="#222" stroke-width="1.3"/>
<text x="548" y="267.7" font-size="9.5" text-anchor="start" fill="#111" stroke="#111" stroke-width="0.3" >Baseline</text>
<line x1="523.2" y1="275.7" x2="543.6" y2="275.7" stroke="#d42a2a" stroke-width="1.3"/>
<text x="548" y="279.1" font-size="9.5" text-anchor="start" fill="#111" stroke="#111" stroke-width="0.3" >1000th Cycle</text>
<line x1="537.8" y1="296.1" x2="559.1" y2="296.1" stroke="#333" stroke-width="1.3"/>
<text x="562.6" y="299.5" font-size="9.5" text-anchor="start" fill="#111" stroke="#111" stroke-width="0.3" >Baseline</text>
<line x1="537.8" y1="307.5" x2="559.1" y2="307.5" stroke="#d42a2a" stroke-width="1.3"/>
<text x="562.6" y="310.9" font-size="9.5" text-anchor="start" fill="#111" stroke="#111" stroke-width="0.3" >1000th Cycle</text>
<line x1="537.8" y1="319.2" x2="559.1" y2="319.2" stroke="#44dd44" stroke-width="1.3"/>
<text x="562.6" y="322.6" font-size="9.5" text-anchor="start" fill="#111" stroke="#111" stroke-width="0.3" >2000th Cycle</text>
<line x1="537.8" y1="331.1" x2="559.1" y2="331.1" stroke="#2244cc" stroke-width="1.3"/>
<text x="562.6" y="334.5" font-size="9.5" text-anchor="start" fill="#111" stroke="#111" stroke-width="0.3" >3000th Cycle</text>
<line x1="554.7" y1="360.4" x2="575.8" y2="360.4" stroke="#222" stroke-width="1.3"/>
<text x="579.3" y="363.8" font-size="9.5" text-anchor="start" fill="#111" stroke="#111" stroke-width="0.3" >Baseline</text>
<line x1="554.7" y1="372.5" x2="575.8" y2="372.5" stroke="#d42a2a" stroke-width="1.3"/>
<text x="579.3" y="375.9" font-size="9.5" text-anchor="start" fill="#111" stroke="#111" stroke-width="0.3" >5000th Cycle</text>
<line x1="554.7" y1="384.4" x2="575.8" y2="384.4" stroke="#44dd44" stroke-width="1.3"/>
<text x="579.3" y="387.8" font-size="9.5" text-anchor="start" fill="#111" stroke="#111" stroke-width="0.3" >9000th Cycle</text>
<path d="M59 654.3 L84.44 654.3 L87.5 646.95 L90.6 637.39 L94.39 625.19 L103.13 599.91 L111 572.71 L119.04 544.93 L126.43 525.67 L132.92 507.3 L295 507.3" fill="none" stroke="#e02828" stroke-width="1.1" stroke-linejoin="round" />
<path d="M59 654.3 L84.44 654.3 L88.37 646.97 L92.04 637.45 L96.24 625.29 L105.15 600.1 L113.02 572.99 L120.88 545.3 L127.7 526.11 L133.21 507.8 L295 507.8" fill="none" stroke="#111" stroke-width="0.9" stroke-linejoin="round" />
<path d="M59 491.5 H295 V668.5 H59 Z" fill="none" stroke="#222" stroke-width="1.1"/>
<line x1="295" y1="491.5" x2="295" y2="668.5" stroke="#e02020" stroke-width="1.1"/>
<line x1="85.22" y1="668.5" x2="85.22" y2="664" stroke="#222" stroke-width="1.1"/>
<line x1="85.22" y1="491.5" x2="85.22" y2="496" stroke="#222" stroke-width="1.1"/>
<line x1="137.67" y1="668.5" x2="137.67" y2="665.8" stroke="#222" stroke-width="1.1"/>
<line x1="137.67" y1="491.5" x2="137.67" y2="494.2" stroke="#222" stroke-width="1.1"/>
<line x1="190.11" y1="668.5" x2="190.11" y2="664" stroke="#222" stroke-width="1.1"/>
<line x1="190.11" y1="491.5" x2="190.11" y2="496" stroke="#222" stroke-width="1.1"/>
<line x1="242.56" y1="668.5" x2="242.56" y2="665.8" stroke="#222" stroke-width="1.1"/>
<line x1="242.56" y1="491.5" x2="242.56" y2="494.2" stroke="#222" stroke-width="1.1"/>
<line x1="295" y1="668.5" x2="295" y2="664" stroke="#222" stroke-width="1.1"/>
<line x1="295" y1="491.5" x2="295" y2="496" stroke="#222" stroke-width="1.1"/>
<line x1="59" y1="653.75" x2="63.5" y2="653.75" stroke="#222" stroke-width="1.1"/>
<line x1="59" y1="616.88" x2="61.7" y2="616.88" stroke="#222" stroke-width="1.1"/>
<line x1="59" y1="580" x2="63.5" y2="580" stroke="#222" stroke-width="1.1"/>
<line x1="59" y1="543.12" x2="61.7" y2="543.12" stroke="#222" stroke-width="1.1"/>
<line x1="59" y1="506.25" x2="63.5" y2="506.25" stroke="#222" stroke-width="1.1"/>
<line x1="295" y1="654" x2="291" y2="654" stroke="#e02020" stroke-width="1"/>
<line x1="295" y1="616.8" x2="292.5" y2="616.8" stroke="#e02020" stroke-width="1"/>
<line x1="295" y1="579.6" x2="291" y2="579.6" stroke="#e02020" stroke-width="1"/>
<line x1="295" y1="542.4" x2="292.5" y2="542.4" stroke="#e02020" stroke-width="1"/>
<line x1="295" y1="505.2" x2="291" y2="505.2" stroke="#e02020" stroke-width="1"/>
<text x="85.22" y="683.1" font-size="12" text-anchor="middle" fill="#111" stroke="#111" stroke-width="0.3" >4</text>
<text x="190.11" y="683.1" font-size="12" text-anchor="middle" fill="#111" stroke="#111" stroke-width="0.3" >6</text>
<text x="295" y="683.1" font-size="12" text-anchor="middle" fill="#111" stroke="#111" stroke-width="0.3" >8</text>
<text x="53.8" y="657.05" font-size="12" text-anchor="end" fill="#111" stroke="#111" stroke-width="0.3" >0</text>
<text x="53.8" y="583.3" font-size="12" text-anchor="end" fill="#111" stroke="#111" stroke-width="0.3" >50</text>
<text x="53.8" y="509.55" font-size="12" text-anchor="end" fill="#111" stroke="#111" stroke-width="0.3" >100</text>
<text x="300" y="657.6" font-size="12" text-anchor="start" fill="#111" stroke="#111" stroke-width="0.3" >0</text>
<text x="300" y="583.2" font-size="12" text-anchor="start" fill="#111" stroke="#111" stroke-width="0.3" >50</text>
<text x="300" y="508.8" font-size="12" text-anchor="start" fill="#111" stroke="#111" stroke-width="0.3" >100</text>
<text x="187.2" y="703.4" font-size="15" text-anchor="middle" fill="#111" stroke="#111" stroke-width="0.3" >Time (second)</text>
<text x="14.5" y="575.8" font-size="15" text-anchor="middle" fill="#111" stroke="#111" stroke-width="0.3" transform="rotate(-90 14.5 575.8)">Strain (%)</text>
<text x="335.5" y="578.4" font-size="14.5" text-anchor="middle" fill="#d82020" stroke="#d82020" stroke-width="0.3" transform="rotate(-90 335.5 578.4)">ΔC/C<tspan font-size="8.7" dy="5.51">0</tspan><tspan dy="-5.51">(%)</tspan></text>
<text x="5" y="501.8" font-size="24.5" text-anchor="start" fill="#111" stroke="#111" stroke-width="0.45" >e</text>
<line x1="135.5" y1="521.4" x2="163.4" y2="521.4" stroke="#111" stroke-width="1.1"/>
<text x="166.9" y="525.6" font-size="12" text-anchor="start" fill="#111" stroke="#111" stroke-width="0.3" >Strain</text>
<line x1="205.7" y1="521.4" x2="230.5" y2="521.4" stroke="#e02020" stroke-width="1.1"/>
<text x="236.4" y="525.6" font-size="12" text-anchor="start" fill="#e02020" stroke="#e02020" stroke-width="0.3" >ΔC/C<tspan font-size="7.5" dy="4.56">0</tspan><tspan dy="-4.56">(%)</tspan></text>
<rect x="147.5" y="555.5" width="117.8" height="88.0" fill="#fff"/>
<path d="M164.1 643.5 L169.1 585.7 L265.3 585.8" fill="none" stroke="#e02020" stroke-width="1" stroke-linejoin="round" />
<path d="M163.6 643.5 L168.6 584.9 L265.3 585.1" fill="none" stroke="#333" stroke-width="0.9" stroke-linejoin="round" />
<path d="M147.5 555.5 H265.3 V643.5 H147.5 Z" fill="none" stroke="#333" stroke-width="0.8"/>
<line x1="265.3" y1="555.5" x2="265.3" y2="643.5" stroke="#d82020" stroke-width="0.8"/>
<line x1="147.5" y1="643.5" x2="147.5" y2="641" stroke="#222" stroke-width="0.7"/>
<line x1="147.5" y1="555.5" x2="147.5" y2="558" stroke="#222" stroke-width="0.7"/>
<line x1="171.06" y1="643.5" x2="171.06" y2="641.9" stroke="#222" stroke-width="0.7"/>
<line x1="171.06" y1="555.5" x2="171.06" y2="557.1" stroke="#222" stroke-width="0.7"/>
<line x1="194.62" y1="643.5" x2="194.62" y2="641" stroke="#222" stroke-width="0.7"/>
<line x1="194.62" y1="555.5" x2="194.62" y2="558" stroke="#222" stroke-width="0.7"/>
<line x1="218.18" y1="643.5" x2="218.18" y2="641.9" stroke="#222" stroke-width="0.7"/>
<line x1="218.18" y1="555.5" x2="218.18" y2="557.1" stroke="#222" stroke-width="0.7"/>
<line x1="241.74" y1="643.5" x2="241.74" y2="641" stroke="#222" stroke-width="0.7"/>
<line x1="241.74" y1="555.5" x2="241.74" y2="558" stroke="#222" stroke-width="0.7"/>
<line x1="265.3" y1="643.5" x2="265.3" y2="641.9" stroke="#222" stroke-width="0.7"/>
<line x1="265.3" y1="555.5" x2="265.3" y2="557.1" stroke="#222" stroke-width="0.7"/>
<line x1="147.5" y1="643.5" x2="150" y2="643.5" stroke="#222" stroke-width="0.7"/>
<line x1="147.5" y1="628.17" x2="149.1" y2="628.17" stroke="#222" stroke-width="0.7"/>
<line x1="147.5" y1="612.84" x2="150" y2="612.84" stroke="#222" stroke-width="0.7"/>
<line x1="147.5" y1="597.51" x2="149.1" y2="597.51" stroke="#222" stroke-width="0.7"/>
<line x1="147.5" y1="582.18" x2="150" y2="582.18" stroke="#222" stroke-width="0.7"/>
<line x1="147.5" y1="566.84" x2="149.1" y2="566.84" stroke="#222" stroke-width="0.7"/>
<line x1="265.3" y1="643.5" x2="262.8" y2="643.5" stroke="#e02020" stroke-width="0.7"/>
<line x1="265.3" y1="627.52" x2="263.7" y2="627.52" stroke="#e02020" stroke-width="0.7"/>
<line x1="265.3" y1="611.55" x2="262.8" y2="611.55" stroke="#e02020" stroke-width="0.7"/>
<line x1="265.3" y1="595.58" x2="263.7" y2="595.58" stroke="#e02020" stroke-width="0.7"/>
<line x1="265.3" y1="579.6" x2="262.8" y2="579.6" stroke="#e02020" stroke-width="0.7"/>
<line x1="265.3" y1="563.62" x2="263.7" y2="563.62" stroke="#e02020" stroke-width="0.7"/>
<text x="147.5" y="651" font-size="6.5" text-anchor="middle" fill="#111" stroke="#111" stroke-width="0.18" >4</text>
<text x="194.62" y="651" font-size="6.5" text-anchor="middle" fill="#111" stroke="#111" stroke-width="0.18" >6</text>
<text x="241.74" y="651" font-size="6.5" text-anchor="middle" fill="#111" stroke="#111" stroke-width="0.18" >8</text>
<text x="145.2" y="645.8" font-size="6.5" text-anchor="end" fill="#111" stroke="#111" stroke-width="0.18" >80</text>
<text x="145.2" y="615.14" font-size="6.5" text-anchor="end" fill="#111" stroke="#111" stroke-width="0.18" >90</text>
<text x="145.2" y="584.48" font-size="6.5" text-anchor="end" fill="#111" stroke="#111" stroke-width="0.18" >100</text>
<text x="267.3" y="645.8" font-size="6.5" text-anchor="start" fill="#e02020" stroke="#e02020" stroke-width="0.18" >80</text>
<text x="267.3" y="613.85" font-size="6.5" text-anchor="start" fill="#e02020" stroke="#e02020" stroke-width="0.18" >90</text>
<text x="267.3" y="581.9" font-size="6.5" text-anchor="start" fill="#e02020" stroke="#e02020" stroke-width="0.18" >100</text>
<path d="M403.5 646.68 L412.41 646.68 L412.41 621.2 L434.49 621.2 L434.49 507.63 L455.11 507.63 L455.11 541.9 L476.5 541.9 L476.5 585.23 L497 585.23 L497 534.25 L518.39 534.25 L518.39 593.02 L538.59 593.02 L538.59 640.17 L559.79 640.17 L559.79 540.2 L581.5 540.2 L581.5 549.26 L602.49 549.26 L602.49 576.03 L623.69 576.03 L623.69 646.68 L639.5 646.68" fill="none" stroke="#dc2020" stroke-width="1.7" stroke-linejoin="round" />
<path d="M403.5 645.76 L412.41 645.76 L412.41 620.28 L434.49 620.28 L434.49 506.71 L455.11 506.71 L455.11 540.98 L476.5 540.98 L476.5 584.31 L497 584.31 L497 533.33 L518.39 533.33 L518.39 592.1 L538.59 592.1 L538.59 639.25 L559.79 639.25 L559.79 539.28 L581.5 539.28 L581.5 548.34 L602.49 548.34 L602.49 575.11 L623.69 575.11 L623.69 645.76 L639.5 645.76" fill="none" stroke="#2a0808" stroke-width="0.8" stroke-linejoin="round" />
<path d="M403.5 490.5 H639.5 V667.5 H403.5 Z" fill="none" stroke="#222" stroke-width="1.1"/>
<line x1="639.5" y1="490.5" x2="639.5" y2="667.5" stroke="#e02020" stroke-width="1.1"/>
<line x1="403.5" y1="667.5" x2="403.5" y2="663" stroke="#222" stroke-width="1.1"/>
<line x1="403.5" y1="490.5" x2="403.5" y2="495" stroke="#222" stroke-width="1.1"/>
<line x1="423.17" y1="667.5" x2="423.17" y2="664.8" stroke="#222" stroke-width="1.1"/>
<line x1="423.17" y1="490.5" x2="423.17" y2="493.2" stroke="#222" stroke-width="1.1"/>
<line x1="442.83" y1="667.5" x2="442.83" y2="663" stroke="#222" stroke-width="1.1"/>
<line x1="442.83" y1="490.5" x2="442.83" y2="495" stroke="#222" stroke-width="1.1"/>
<line x1="462.5" y1="667.5" x2="462.5" y2="664.8" stroke="#222" stroke-width="1.1"/>
<line x1="462.5" y1="490.5" x2="462.5" y2="493.2" stroke="#222" stroke-width="1.1"/>
<line x1="482.17" y1="667.5" x2="482.17" y2="663" stroke="#222" stroke-width="1.1"/>
<line x1="482.17" y1="490.5" x2="482.17" y2="495" stroke="#222" stroke-width="1.1"/>
<line x1="501.83" y1="667.5" x2="501.83" y2="664.8" stroke="#222" stroke-width="1.1"/>
<line x1="501.83" y1="490.5" x2="501.83" y2="493.2" stroke="#222" stroke-width="1.1"/>
<line x1="521.5" y1="667.5" x2="521.5" y2="663" stroke="#222" stroke-width="1.1"/>
<line x1="521.5" y1="490.5" x2="521.5" y2="495" stroke="#222" stroke-width="1.1"/>
<line x1="541.17" y1="667.5" x2="541.17" y2="664.8" stroke="#222" stroke-width="1.1"/>
<line x1="541.17" y1="490.5" x2="541.17" y2="493.2" stroke="#222" stroke-width="1.1"/>
<line x1="560.83" y1="667.5" x2="560.83" y2="663" stroke="#222" stroke-width="1.1"/>
<line x1="560.83" y1="490.5" x2="560.83" y2="495" stroke="#222" stroke-width="1.1"/>
<line x1="580.5" y1="667.5" x2="580.5" y2="664.8" stroke="#222" stroke-width="1.1"/>
<line x1="580.5" y1="490.5" x2="580.5" y2="493.2" stroke="#222" stroke-width="1.1"/>
<line x1="600.17" y1="667.5" x2="600.17" y2="663" stroke="#222" stroke-width="1.1"/>
<line x1="600.17" y1="490.5" x2="600.17" y2="495" stroke="#222" stroke-width="1.1"/>
<line x1="619.83" y1="667.5" x2="619.83" y2="664.8" stroke="#222" stroke-width="1.1"/>
<line x1="619.83" y1="490.5" x2="619.83" y2="493.2" stroke="#222" stroke-width="1.1"/>
<line x1="639.5" y1="667.5" x2="639.5" y2="663" stroke="#222" stroke-width="1.1"/>
<line x1="639.5" y1="490.5" x2="639.5" y2="495" stroke="#222" stroke-width="1.1"/>
<line x1="403.5" y1="646.26" x2="408" y2="646.26" stroke="#222" stroke-width="1.1"/>
<line x1="403.5" y1="610.86" x2="406.2" y2="610.86" stroke="#222" stroke-width="1.1"/>
<line x1="403.5" y1="575.46" x2="408" y2="575.46" stroke="#222" stroke-width="1.1"/>
<line x1="403.5" y1="540.06" x2="406.2" y2="540.06" stroke="#222" stroke-width="1.1"/>
<line x1="403.5" y1="504.66" x2="408" y2="504.66" stroke="#222" stroke-width="1.1"/>
<line x1="639.5" y1="501.5" x2="636.5" y2="501.5" stroke="#e02020" stroke-width="1"/>
<line x1="639.5" y1="537.3" x2="636.5" y2="537.3" stroke="#e02020" stroke-width="1"/>
<line x1="639.5" y1="573.5" x2="636.5" y2="573.5" stroke="#e02020" stroke-width="1"/>
<line x1="639.5" y1="609.5" x2="636.5" y2="609.5" stroke="#e02020" stroke-width="1"/>
<line x1="639.5" y1="645.3" x2="636.5" y2="645.3" stroke="#e02020" stroke-width="1"/>
<text x="403.5" y="681.3" font-size="12" text-anchor="middle" fill="#111" stroke="#111" stroke-width="0.3" >0</text>
<text x="442.83" y="681.3" font-size="12" text-anchor="middle" fill="#111" stroke="#111" stroke-width="0.3" >20</text>
<text x="482.17" y="681.3" font-size="12" text-anchor="middle" fill="#111" stroke="#111" stroke-width="0.3" >40</text>
<text x="521.5" y="681.3" font-size="12" text-anchor="middle" fill="#111" stroke="#111" stroke-width="0.3" >60</text>
<text x="560.83" y="681.3" font-size="12" text-anchor="middle" fill="#111" stroke="#111" stroke-width="0.3" >80</text>
<text x="600.17" y="681.3" font-size="12" text-anchor="middle" fill="#111" stroke="#111" stroke-width="0.3" >100</text>
<text x="639.5" y="681.3" font-size="12" text-anchor="middle" fill="#111" stroke="#111" stroke-width="0.3" >120</text>
<text x="398.3" y="649.56" font-size="12" text-anchor="end" fill="#111" stroke="#111" stroke-width="0.3" >0</text>
<text x="398.3" y="578.76" font-size="12" text-anchor="end" fill="#111" stroke="#111" stroke-width="0.3" >50</text>
<text x="398.3" y="507.96" font-size="12" text-anchor="end" fill="#111" stroke="#111" stroke-width="0.3" >100</text>
<text x="474.4" y="707.5" font-size="15" text-anchor="start" fill="#111" stroke="#111" stroke-width="0.3" >Time(second)</text>
<text x="363.8" y="577.7" font-size="15" text-anchor="middle" fill="#111" stroke="#111" stroke-width="0.3" transform="rotate(-90 363.8 577.7)">Strain (%)</text>
<text x="675.6" y="577" font-size="14.5" text-anchor="middle" fill="#d82020" stroke="#d82020" stroke-width="0.3" transform="rotate(-90 675.6 577)">ΔC/C<tspan font-size="8.7" dy="5.51">0</tspan><tspan dy="-5.51">(%)</tspan></text>
<text x="349" y="504.7" font-size="24" text-anchor="start" fill="#111" stroke="#111" stroke-width="0.45" >f</text>
<line x1="479.5" y1="508" x2="506" y2="508" stroke="#555" stroke-width="2"/>
<text x="512" y="512.2" font-size="12" text-anchor="start" fill="#111" stroke="#111" stroke-width="0.3" >Strain</text>
<line x1="567.5" y1="507.9" x2="594.3" y2="507.9" stroke="#e02020" stroke-width="1.1"/>
<text x="598.9" y="512.1" font-size="12" text-anchor="start" fill="#e02020" stroke="#e02020" stroke-width="0.3" >ΔC/C<tspan font-size="7.5" dy="4.2">0</tspan></text>
<text x="446.3" y="504.3" font-size="10" text-anchor="middle" fill="#111" stroke="#111" stroke-width="0.3" >98.2%</text>
<text x="466.1" y="553.5" font-size="10" text-anchor="middle" fill="#111" stroke="#111" stroke-width="0.3" >74%</text>
<text x="489.1" y="595.3" font-size="10" text-anchor="middle" fill="#111" stroke="#111" stroke-width="0.3" >43.4%</text>
<text x="509.3" y="531.6" font-size="10" text-anchor="middle" fill="#111" stroke="#111" stroke-width="0.3" >79.4%</text>
<text x="425" y="631" font-size="10" text-anchor="middle" fill="#111" stroke="#111" stroke-width="0.3" >18%</text>
<text x="532.5" y="589.4" font-size="10" text-anchor="middle" fill="#111" stroke="#111" stroke-width="0.3" >37.9%</text>
<text x="549.6" y="652" font-size="10" text-anchor="middle" fill="#111" stroke="#111" stroke-width="0.3" >4.6%</text>
<text x="572.1" y="537" font-size="10" text-anchor="middle" fill="#111" stroke="#111" stroke-width="0.3" >75.2%</text>
<text x="590.5" y="560.8" font-size="10" text-anchor="middle" fill="#111" stroke="#111" stroke-width="0.3" >68.8%</text>
<text x="617.3" y="572.3" font-size="10" text-anchor="middle" fill="#111" stroke="#111" stroke-width="0.3" >49.9%</text>
<rect x="462.6" y="603.3" width="60.2" height="43.1" fill="#fff"/>
<path d="M462.6 603.3 H522.8 V646.4 H462.6 Z" fill="none" stroke="#444" stroke-width="0.7"/>
<line x1="463.75" y1="646.4" x2="463.75" y2="644.6" stroke="#444" stroke-width="0.6"/>
<line x1="463.75" y1="603.3" x2="463.75" y2="605.1" stroke="#444" stroke-width="0.6"/>
<line x1="478.08" y1="646.4" x2="478.08" y2="645.2" stroke="#444" stroke-width="0.6"/>
<line x1="478.08" y1="603.3" x2="478.08" y2="604.5" stroke="#444" stroke-width="0.6"/>
<line x1="492.41" y1="646.4" x2="492.41" y2="644.6" stroke="#444" stroke-width="0.6"/>
<line x1="492.41" y1="603.3" x2="492.41" y2="605.1" stroke="#444" stroke-width="0.6"/>
<line x1="506.75" y1="646.4" x2="506.75" y2="645.2" stroke="#444" stroke-width="0.6"/>
<line x1="506.75" y1="603.3" x2="506.75" y2="604.5" stroke="#444" stroke-width="0.6"/>
<line x1="521.08" y1="646.4" x2="521.08" y2="644.6" stroke="#444" stroke-width="0.6"/>
<line x1="521.08" y1="603.3" x2="521.08" y2="605.1" stroke="#444" stroke-width="0.6"/>
<line x1="462.6" y1="646.4" x2="464.4" y2="646.4" stroke="#444" stroke-width="0.6"/>
<line x1="522.8" y1="646.4" x2="521" y2="646.4" stroke="#444" stroke-width="0.6"/>
<line x1="462.6" y1="632.41" x2="463.8" y2="632.41" stroke="#444" stroke-width="0.6"/>
<line x1="522.8" y1="632.41" x2="521.6" y2="632.41" stroke="#444" stroke-width="0.6"/>
<line x1="462.6" y1="618.41" x2="464.4" y2="618.41" stroke="#444" stroke-width="0.6"/>
<line x1="522.8" y1="618.41" x2="521" y2="618.41" stroke="#444" stroke-width="0.6"/>
<line x1="462.6" y1="604.42" x2="463.8" y2="604.42" stroke="#444" stroke-width="0.6"/>
<line x1="522.8" y1="604.42" x2="521.6" y2="604.42" stroke="#444" stroke-width="0.6"/>
<text x="463.6" y="652" font-size="5" text-anchor="middle" fill="#333" stroke="#333" stroke-width="0.18" >0</text>
<text x="491.8" y="652" font-size="5" text-anchor="middle" fill="#333" stroke="#333" stroke-width="0.18" >50</text>
<text x="519.6" y="652" font-size="5" text-anchor="middle" fill="#333" stroke="#333" stroke-width="0.18" >100</text>
<text x="461.5" y="617.1" font-size="5" text-anchor="end" fill="#333" stroke="#333" stroke-width="0.18" >0.00</text>
<text x="462" y="647.8" font-size="5" text-anchor="end" fill="#333" stroke="#333" stroke-width="0.18" >-0.05</text>
<text x="494" y="660.8" font-size="6" text-anchor="middle" fill="#333" stroke="#333" stroke-width="0.18" >Strain (%)</text>
<text x="446.2" y="627.1" font-size="6" text-anchor="middle" fill="#333" stroke="#333" stroke-width="0.18" transform="rotate(-90 446.2 627.1)">Deviation</text>
<line x1="466.3" y1="622" x2="466.3" y2="636.6" stroke="#3355bb" stroke-width="0.7"/>
<line x1="465.3" y1="622" x2="467.3" y2="622" stroke="#3355bb" stroke-width="0.7"/>
<line x1="465.3" y1="636.6" x2="467.3" y2="636.6" stroke="#3355bb" stroke-width="0.7"/>
<rect x="465.3" y="628.6" width="2.0" height="2.0" fill="none" stroke="#4aa6e0" stroke-width="0.6"/>
<rect x="472.9" y="613.9" width="2.0" height="2.0" fill="none" stroke="#4aa6e0" stroke-width="0.6"/>
<rect x="472.9" y="615.9" width="2.0" height="2.0" fill="none" stroke="#4aa6e0" stroke-width="0.6"/>
<rect x="484.0" y="620.3" width="2.0" height="2.0" fill="none" stroke="#4aa6e0" stroke-width="0.6"/>
<rect x="486.9" y="621.7" width="2.0" height="2.0" fill="none" stroke="#4aa6e0" stroke-width="0.6"/>
<rect x="490.4" y="626.1" width="2.0" height="2.0" fill="none" stroke="#4aa6e0" stroke-width="0.6"/>
<rect x="500.8" y="633.0" width="2.0" height="2.0" fill="none" stroke="#4aa6e0" stroke-width="0.6"/>
<rect x="503.5" y="632.0" width="2.0" height="2.0" fill="none" stroke="#4aa6e0" stroke-width="0.6"/>
<rect x="504.7" y="631.7" width="2.0" height="2.0" fill="none" stroke="#4aa6e0" stroke-width="0.6"/>
<rect x="506.9" y="631.2" width="2.0" height="2.0" fill="none" stroke="#4aa6e0" stroke-width="0.6"/>
<rect x="517.5" y="625.8" width="2.0" height="2.0" fill="none" stroke="#4aa6e0" stroke-width="0.6"/>
</svg></div></body></html>
